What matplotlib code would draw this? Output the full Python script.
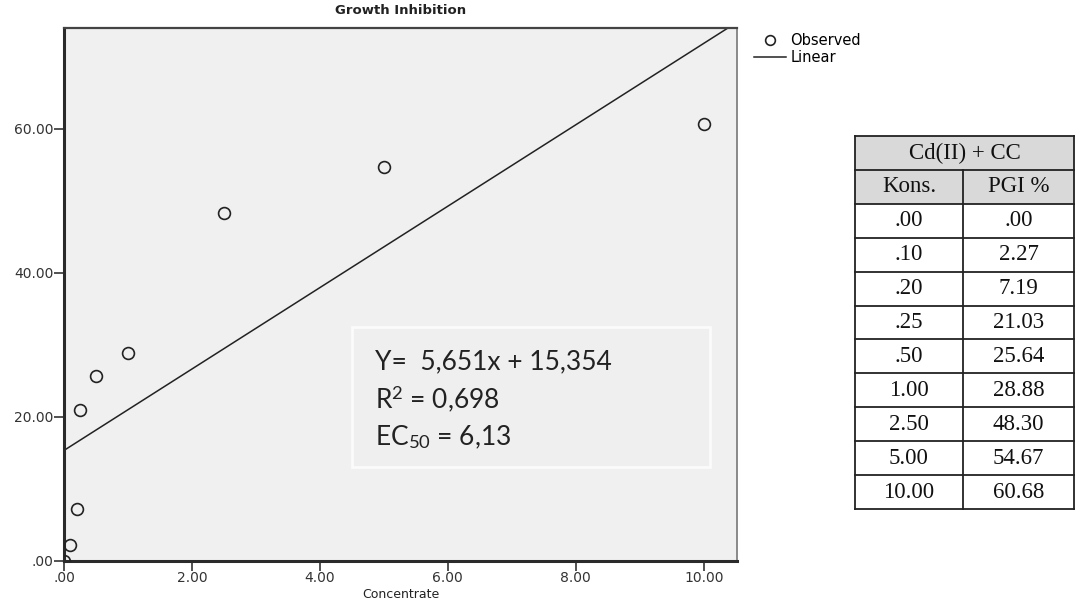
import numpy as np
import matplotlib
matplotlib.use("Agg")
import matplotlib.pyplot as plt
from matplotlib.lines import Line2D
from matplotlib.patches import Rectangle

# data
conc = [0.0, 0.10, 0.20, 0.25, 0.50, 1.00, 2.50, 5.00, 10.00]
pgi = [0.0, 2.27, 7.19, 21.03, 25.64, 28.88, 48.30, 54.67, 60.68]
slope = 5.651
intercept = 15.354
eq_lines = ["Y=  5,651x + 15,354", r"R$^2$ = 0,698", r"EC$_{50}$ = 6,13"]
x_ticks = [0, 2, 4, 6, 8, 10]
y_ticks = [0, 20, 40, 60]
table_title = "Cd(II) + CC"
table_cols = ["Kons.", "PGI %"]


def spss_fmt(v):
    s = "%.2f" % v
    if s.startswith("0"):
        s = s[1:]
    return s


plt.rcParams['mathtext.fontset'] = 'custom'
plt.rcParams['mathtext.rm'] = 'Lato'
plt.rcParams['mathtext.it'] = 'Lato:italic'

W, H = 1075, 602
fig = plt.figure(figsize=(W / 100, H / 100), dpi=100)
fig.patch.set_facecolor('white')

# main scatter axes (pixel box 64..737 x 28..561)
AX_L, AX_R, AX_T, AX_B = 64, 737, 28, 561
ax = fig.add_axes([AX_L / W, 1 - AX_B / H, (AX_R - AX_L) / W, (AX_B - AX_T) / H])
ax.set_facecolor('#f0f0f0')
ax.set_xlim(0, 10.52)
ax.set_ylim(0, 74.0)

ax.plot(conc, pgi, 'o', ms=8.5, mfc='none', mec='#222222', mew=1.2, zorder=3)
ax.axline((0, intercept), slope=slope, color='#222222', lw=1.1, zorder=2)

ax.set_xticks(x_ticks)
ax.set_yticks(y_ticks)
ax.set_xticklabels([spss_fmt(v) for v in x_ticks])
ax.set_yticklabels([spss_fmt(v) for v in y_ticks])
ax.tick_params(direction='out', length=7, width=1.2, pad=0.5,
               labelsize=10, colors='#333333', top=False, right=False)

for side in ['left', 'bottom']:
    ax.spines[side].set_linewidth(2.2)
    ax.spines[side].set_color('#2a2a2a')
ax.spines['top'].set_linewidth(1.6)
ax.spines['top'].set_color('#444444')
ax.spines['right'].set_linewidth(1.2)
ax.spines['right'].set_color('#777777')

ax.set_title("Growth Inhibition", fontsize=9.5, fontweight='bold',
             color='#222222', pad=10)
ax.set_xlabel("Concentrate", fontsize=9, color='#222222', labelpad=2)

# equation box
aw, ah = AX_R - AX_L, AX_B - AX_T
bx0, bx1 = (352 - AX_L) / aw, (710 - AX_L) / aw
by0, by1 = (AX_B - 467) / ah, (AX_B - 327) / ah
ax.add_patch(Rectangle((bx0, by0), bx1 - bx0, by1 - by0, transform=ax.transAxes,
                       facecolor='#efefef', edgecolor='#fbfbfb', lw=2, zorder=4))
line_y = [362, 399, 437]
for txt, py in zip(eq_lines, line_y):
    ax.text((375 - AX_L) / aw, (AX_B - py) / ah, txt, transform=ax.transAxes,
            fontsize=19, family='Lato', color='#222222', va='center',
            ha='left', zorder=5)

# legend
handles = [Line2D([], [], ls='none', marker='o', ms=7, mfc='none',
                  mec='#222222', mew=1.2),
           Line2D([], [], color='#222222', lw=1.1)]
ax.legend(handles, ["Observed", "Linear"], loc='upper left',
          bbox_to_anchor=(754 / W, 1 - 33 / H), bbox_transform=fig.transFigure,
          frameon=False, fontsize=10.5, handlelength=2.2, handletextpad=0.3,
          labelspacing=0.12, borderpad=0, borderaxespad=0, numpoints=1)

# table
t_left, t_right, t_top, t_bot = 855, 1074, 136, 509
tax = fig.add_axes([t_left / W, 1 - t_bot / H, (t_right - t_left) / W,
                    (t_bot - t_top) / H])
n_rows = len(conc) + 2
tax.set_xlim(0, 2)
tax.set_ylim(n_rows, 0)
tax.axis('off')
split = (963 - t_left) / (t_right - t_left) * 2

tax.add_patch(Rectangle((0, 0), 2, 2, facecolor='#d9d9d9', edgecolor='none'))
for r in range(n_rows + 1):
    tax.plot([0, 2], [r, r], color='#222222', lw=1.3, clip_on=False)
tax.plot([0, 0], [0, n_rows], color='#222222', lw=1.3, clip_on=False)
tax.plot([2, 2], [0, n_rows], color='#222222', lw=1.3, clip_on=False)
tax.plot([split, split], [1, n_rows], color='#222222', lw=1.3, clip_on=False)

tfont = dict(family='Liberation Serif', fontsize=16.5, color='#111111',
             ha='center', va='center')
tax.text(1, 0.5, table_title, **tfont)
tax.text(split / 2, 1.5, table_cols[0], **tfont)
tax.text((split + 2) / 2, 1.5, table_cols[1], **tfont)
for i, (c, p) in enumerate(zip(conc, pgi)):
    tax.text(split / 2, i + 2.5, spss_fmt(c), **tfont)
    tax.text((split + 2) / 2, i + 2.5, spss_fmt(p), **tfont)

fig.savefig("out.png", dpi=100)
